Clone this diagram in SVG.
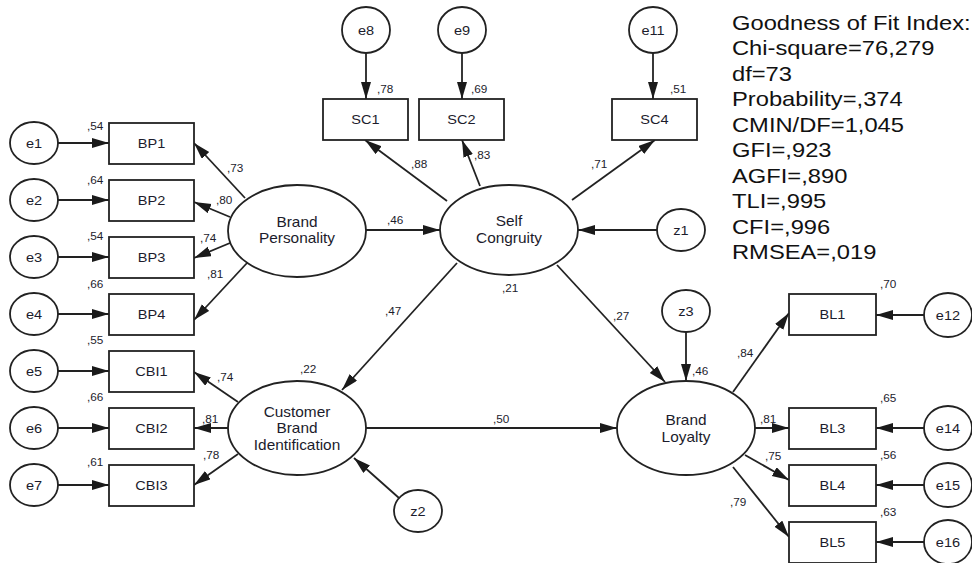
<svg xmlns="http://www.w3.org/2000/svg" width="972" height="563" viewBox="0 0 972 563">
<defs>
<marker id="ah" markerUnits="userSpaceOnUse" markerWidth="18" markerHeight="12" refX="17" refY="5" orient="auto">
<path d="M0,0 L17,5 L0,10 z" fill="#1a1a1a"/>
</marker>
<style>
.sh{fill:#fff;stroke:#222;stroke-width:1.8}
.ln{stroke:#222;stroke-width:1.8;fill:none;marker-end:url(#ah)}
.t{font-family:"Liberation Sans",Arial,sans-serif;fill:#1c1c2c}
.nl{font-size:13px;text-anchor:middle}
.el{font-size:14px;text-anchor:middle}
.sm{font-size:10.5px}
.fit{font-size:21px;fill:#111}
</style>
</defs>
<rect width="972" height="563" fill="#fff"/>
<g id="connectors">
<line class="ln" x1="58" y1="143" x2="109" y2="143"/>
<line class="ln" x1="58" y1="200" x2="109" y2="200"/>
<line class="ln" x1="58" y1="257" x2="109" y2="257"/>
<line class="ln" x1="58" y1="314" x2="109" y2="314"/>
<line class="ln" x1="58" y1="371" x2="109" y2="371"/>
<line class="ln" x1="58" y1="428" x2="109" y2="428"/>
<line class="ln" x1="58" y1="485" x2="109" y2="485"/>
<line class="ln" x1="245" y1="198" x2="194" y2="143"/>
<line class="ln" x1="230" y1="217" x2="194" y2="202"/>
<line class="ln" x1="230" y1="243" x2="194" y2="258"/>
<line class="ln" x1="247" y1="263" x2="194" y2="320"/>
<line class="ln" x1="238" y1="402" x2="194" y2="372"/>
<line class="ln" x1="228" y1="428" x2="194" y2="428"/>
<line class="ln" x1="238" y1="454" x2="194" y2="485"/>
<line class="ln" x1="366" y1="53" x2="366" y2="99"/>
<line class="ln" x1="462" y1="53" x2="462" y2="99"/>
<line class="ln" x1="653" y1="53" x2="653" y2="99"/>
<line class="ln" x1="447" y1="201" x2="365" y2="140"/>
<line class="ln" x1="480" y1="186" x2="462" y2="140"/>
<line class="ln" x1="572" y1="200" x2="655" y2="140"/>
<line class="ln" x1="366" y1="230" x2="440" y2="230"/>
<line class="ln" x1="657" y1="230" x2="578" y2="230"/>
<line class="ln" x1="457" y1="263" x2="342" y2="390"/>
<line class="ln" x1="557" y1="265" x2="665" y2="382"/>
<line class="ln" x1="399" y1="498" x2="354" y2="458"/>
<line class="ln" x1="686" y1="332" x2="686" y2="381"/>
<line class="ln" x1="366" y1="428" x2="617" y2="428"/>
<line class="ln" x1="733" y1="392" x2="789" y2="313"/>
<line class="ln" x1="755" y1="428" x2="789" y2="428"/>
<line class="ln" x1="745" y1="455" x2="789" y2="480"/>
<line class="ln" x1="733" y1="467" x2="789" y2="537"/>
<line class="ln" x1="924" y1="315" x2="876" y2="315"/>
<line class="ln" x1="924" y1="428" x2="876" y2="428"/>
<line class="ln" x1="924" y1="485" x2="876" y2="485"/>
<line class="ln" x1="924" y1="542" x2="876" y2="542"/>
</g>
<g id="e1"><ellipse class="sh" cx="34" cy="143" rx="24" ry="21"/><text class="t nl" transform="translate(34,148) scale(1.12,1)">e1</text></g>
<g id="e2"><ellipse class="sh" cx="34" cy="200" rx="24" ry="21"/><text class="t nl" transform="translate(34,205) scale(1.12,1)">e2</text></g>
<g id="e3"><ellipse class="sh" cx="34" cy="257" rx="24" ry="21"/><text class="t nl" transform="translate(34,262) scale(1.12,1)">e3</text></g>
<g id="e4"><ellipse class="sh" cx="34" cy="314" rx="24" ry="21"/><text class="t nl" transform="translate(34,319) scale(1.12,1)">e4</text></g>
<g id="e5"><ellipse class="sh" cx="34" cy="371" rx="24" ry="21"/><text class="t nl" transform="translate(34,376) scale(1.12,1)">e5</text></g>
<g id="e6"><ellipse class="sh" cx="34" cy="428" rx="24" ry="21"/><text class="t nl" transform="translate(34,433) scale(1.12,1)">e6</text></g>
<g id="e7"><ellipse class="sh" cx="34" cy="485" rx="24" ry="21"/><text class="t nl" transform="translate(34,490) scale(1.12,1)">e7</text></g>
<g id="BP1"><rect class="sh" x="109" y="123" width="85" height="41"/><text class="t nl" transform="translate(151.5,148) scale(1.12,1)">BP1</text><text class="t sm" transform="translate(87,130) scale(1.12,1)">,54</text></g>
<g id="BP2"><rect class="sh" x="109" y="180" width="85" height="41"/><text class="t nl" transform="translate(151.5,205) scale(1.12,1)">BP2</text><text class="t sm" transform="translate(87,184) scale(1.12,1)">,64</text></g>
<g id="BP3"><rect class="sh" x="109" y="237" width="85" height="41"/><text class="t nl" transform="translate(151.5,262) scale(1.12,1)">BP3</text><text class="t sm" transform="translate(87,240) scale(1.12,1)">,54</text></g>
<g id="BP4"><rect class="sh" x="109" y="294" width="85" height="41"/><text class="t nl" transform="translate(151.5,319) scale(1.12,1)">BP4</text><text class="t sm" transform="translate(87,288) scale(1.12,1)">,66</text></g>
<g id="CBI1"><rect class="sh" x="109" y="351" width="85" height="41"/><text class="t nl" transform="translate(151.5,376) scale(1.12,1)">CBI1</text><text class="t sm" transform="translate(87,344) scale(1.12,1)">,55</text></g>
<g id="CBI2"><rect class="sh" x="109" y="408" width="85" height="41"/><text class="t nl" transform="translate(151.5,433) scale(1.12,1)">CBI2</text><text class="t sm" transform="translate(87,401) scale(1.12,1)">,66</text></g>
<g id="CBI3"><rect class="sh" x="109" y="465" width="85" height="41"/><text class="t nl" transform="translate(151.5,490) scale(1.12,1)">CBI3</text><text class="t sm" transform="translate(87,466) scale(1.12,1)">,61</text></g>
<g id="BP"><ellipse class="sh" cx="297" cy="231" rx="69" ry="46"/><text class="t el" transform="translate(297,227) scale(1.1,1)">Brand</text><text class="t el" transform="translate(297,243) scale(1.1,1)">Personality</text></g>
<g id="CBI"><ellipse class="sh" cx="297" cy="428" rx="69" ry="47"/><text class="t el" transform="translate(297,417) scale(1.1,1)">Customer</text><text class="t el" transform="translate(297,433) scale(1.1,1)">Brand</text><text class="t el" transform="translate(297,450) scale(1.1,1)">Identification</text><text class="t sm" transform="translate(300,373) scale(1.12,1)">,22</text></g>
<g id="e8"><ellipse class="sh" cx="366" cy="30" rx="24" ry="23"/><text class="t nl" transform="translate(366,35) scale(1.12,1)">e8</text></g>
<g id="e9"><ellipse class="sh" cx="462" cy="30" rx="24" ry="23"/><text class="t nl" transform="translate(462,35) scale(1.12,1)">e9</text></g>
<g id="e11"><ellipse class="sh" cx="653" cy="30" rx="24" ry="23"/><text class="t nl" transform="translate(653,35) scale(1.12,1)">e11</text></g>
<g id="SC1"><rect class="sh" x="323" y="99" width="85" height="41"/><text class="t nl" transform="translate(365.5,124) scale(1.12,1)">SC1</text><text class="t sm" transform="translate(377,93) scale(1.12,1)">,78</text></g>
<g id="SC2"><rect class="sh" x="419" y="99" width="85" height="41"/><text class="t nl" transform="translate(461.5,124) scale(1.12,1)">SC2</text><text class="t sm" transform="translate(471,93) scale(1.12,1)">,69</text></g>
<g id="SC4"><rect class="sh" x="612" y="99" width="85" height="41"/><text class="t nl" transform="translate(654.5,124) scale(1.12,1)">SC4</text><text class="t sm" transform="translate(670,93) scale(1.12,1)">,51</text></g>
<g id="SC"><ellipse class="sh" cx="509" cy="230" rx="69" ry="45"/><text class="t el" transform="translate(509,226) scale(1.1,1)">Self</text><text class="t el" transform="translate(509,243) scale(1.1,1)">Congruity</text><text class="t sm" transform="translate(502,292) scale(1.12,1)">,21</text></g>
<g id="z1"><ellipse class="sh" cx="681" cy="230" rx="24" ry="21"/><text class="t nl" transform="translate(681,235) scale(1.12,1)">z1</text></g>
<g id="z2"><ellipse class="sh" cx="418" cy="511" rx="24" ry="21"/><text class="t nl" transform="translate(418,516) scale(1.12,1)">z2</text></g>
<g id="z3"><ellipse class="sh" cx="686" cy="311" rx="24" ry="21"/><text class="t nl" transform="translate(686,316) scale(1.12,1)">z3</text></g>
<g id="BL"><ellipse class="sh" cx="686" cy="428" rx="69" ry="47"/><text class="t el" transform="translate(686,425) scale(1.1,1)">Brand</text><text class="t el" transform="translate(686,442) scale(1.1,1)">Loyalty</text><text class="t sm" transform="translate(692,375) scale(1.12,1)">,46</text></g>
<g id="BL1"><rect class="sh" x="789" y="294" width="87" height="41"/><text class="t nl" transform="translate(832.5,319) scale(1.12,1)">BL1</text><text class="t sm" transform="translate(880,288) scale(1.12,1)">,70</text></g>
<g id="BL3"><rect class="sh" x="789" y="408" width="87" height="41"/><text class="t nl" transform="translate(832.5,433) scale(1.12,1)">BL3</text><text class="t sm" transform="translate(880,402) scale(1.12,1)">,65</text></g>
<g id="BL4"><rect class="sh" x="789" y="465" width="87" height="41"/><text class="t nl" transform="translate(832.5,490) scale(1.12,1)">BL4</text><text class="t sm" transform="translate(880,459) scale(1.12,1)">,56</text></g>
<g id="BL5"><rect class="sh" x="789" y="522" width="87" height="41"/><text class="t nl" transform="translate(832.5,547) scale(1.12,1)">BL5</text><text class="t sm" transform="translate(880,516) scale(1.12,1)">,63</text></g>
<g id="e12"><ellipse class="sh" cx="948" cy="315" rx="24" ry="22"/><text class="t nl" transform="translate(948,320) scale(1.12,1)">e12</text></g>
<g id="e14"><ellipse class="sh" cx="948" cy="428" rx="24" ry="22"/><text class="t nl" transform="translate(948,433) scale(1.12,1)">e14</text></g>
<g id="e15"><ellipse class="sh" cx="948" cy="485" rx="24" ry="22"/><text class="t nl" transform="translate(948,490) scale(1.12,1)">e15</text></g>
<g id="e16"><ellipse class="sh" cx="948" cy="542" rx="24" ry="22"/><text class="t nl" transform="translate(948,547) scale(1.12,1)">e16</text></g>
<g id="path-labels">
<text class="t sm" transform="translate(227,172) scale(1.12,1)">,73</text>
<text class="t sm" transform="translate(216,204) scale(1.12,1)">,80</text>
<text class="t sm" transform="translate(200,242) scale(1.12,1)">,74</text>
<text class="t sm" transform="translate(207,278) scale(1.12,1)">,81</text>
<text class="t sm" transform="translate(217,381) scale(1.12,1)">,74</text>
<text class="t sm" transform="translate(202,423) scale(1.12,1)">,81</text>
<text class="t sm" transform="translate(203,459) scale(1.12,1)">,78</text>
<text class="t sm" transform="translate(411,168) scale(1.12,1)">,88</text>
<text class="t sm" transform="translate(474,159) scale(1.12,1)">,83</text>
<text class="t sm" transform="translate(591,168) scale(1.12,1)">,71</text>
<text class="t sm" transform="translate(387,224) scale(1.12,1)">,46</text>
<text class="t sm" transform="translate(385,315) scale(1.12,1)">,47</text>
<text class="t sm" transform="translate(613,320) scale(1.12,1)">,27</text>
<text class="t sm" transform="translate(493,423) scale(1.12,1)">,50</text>
<text class="t sm" transform="translate(737,357) scale(1.12,1)">,84</text>
<text class="t sm" transform="translate(760,423) scale(1.12,1)">,81</text>
<text class="t sm" transform="translate(765,460) scale(1.12,1)">,75</text>
<text class="t sm" transform="translate(730,506) scale(1.12,1)">,79</text>
</g>
<g id="fit-index">
<text class="t fit" transform="translate(732,29.5) scale(1.13,1)">Goodness of Fit Index:</text>
<text class="t fit" transform="translate(732,55) scale(1.13,1)">Chi-square=76,279</text>
<text class="t fit" transform="translate(732,80.5) scale(1.13,1)">df=73</text>
<text class="t fit" transform="translate(732,106) scale(1.13,1)">Probability=,374</text>
<text class="t fit" transform="translate(732,131.5) scale(1.13,1)">CMIN/DF=1,045</text>
<text class="t fit" transform="translate(732,157) scale(1.13,1)">GFI=,923</text>
<text class="t fit" transform="translate(732,182.5) scale(1.13,1)">AGFI=,890</text>
<text class="t fit" transform="translate(732,208) scale(1.13,1)">TLI=,995</text>
<text class="t fit" transform="translate(732,233.5) scale(1.13,1)">CFI=,996</text>
<text class="t fit" transform="translate(732,259) scale(1.13,1)">RMSEA=,019</text>
</g>
</svg>
